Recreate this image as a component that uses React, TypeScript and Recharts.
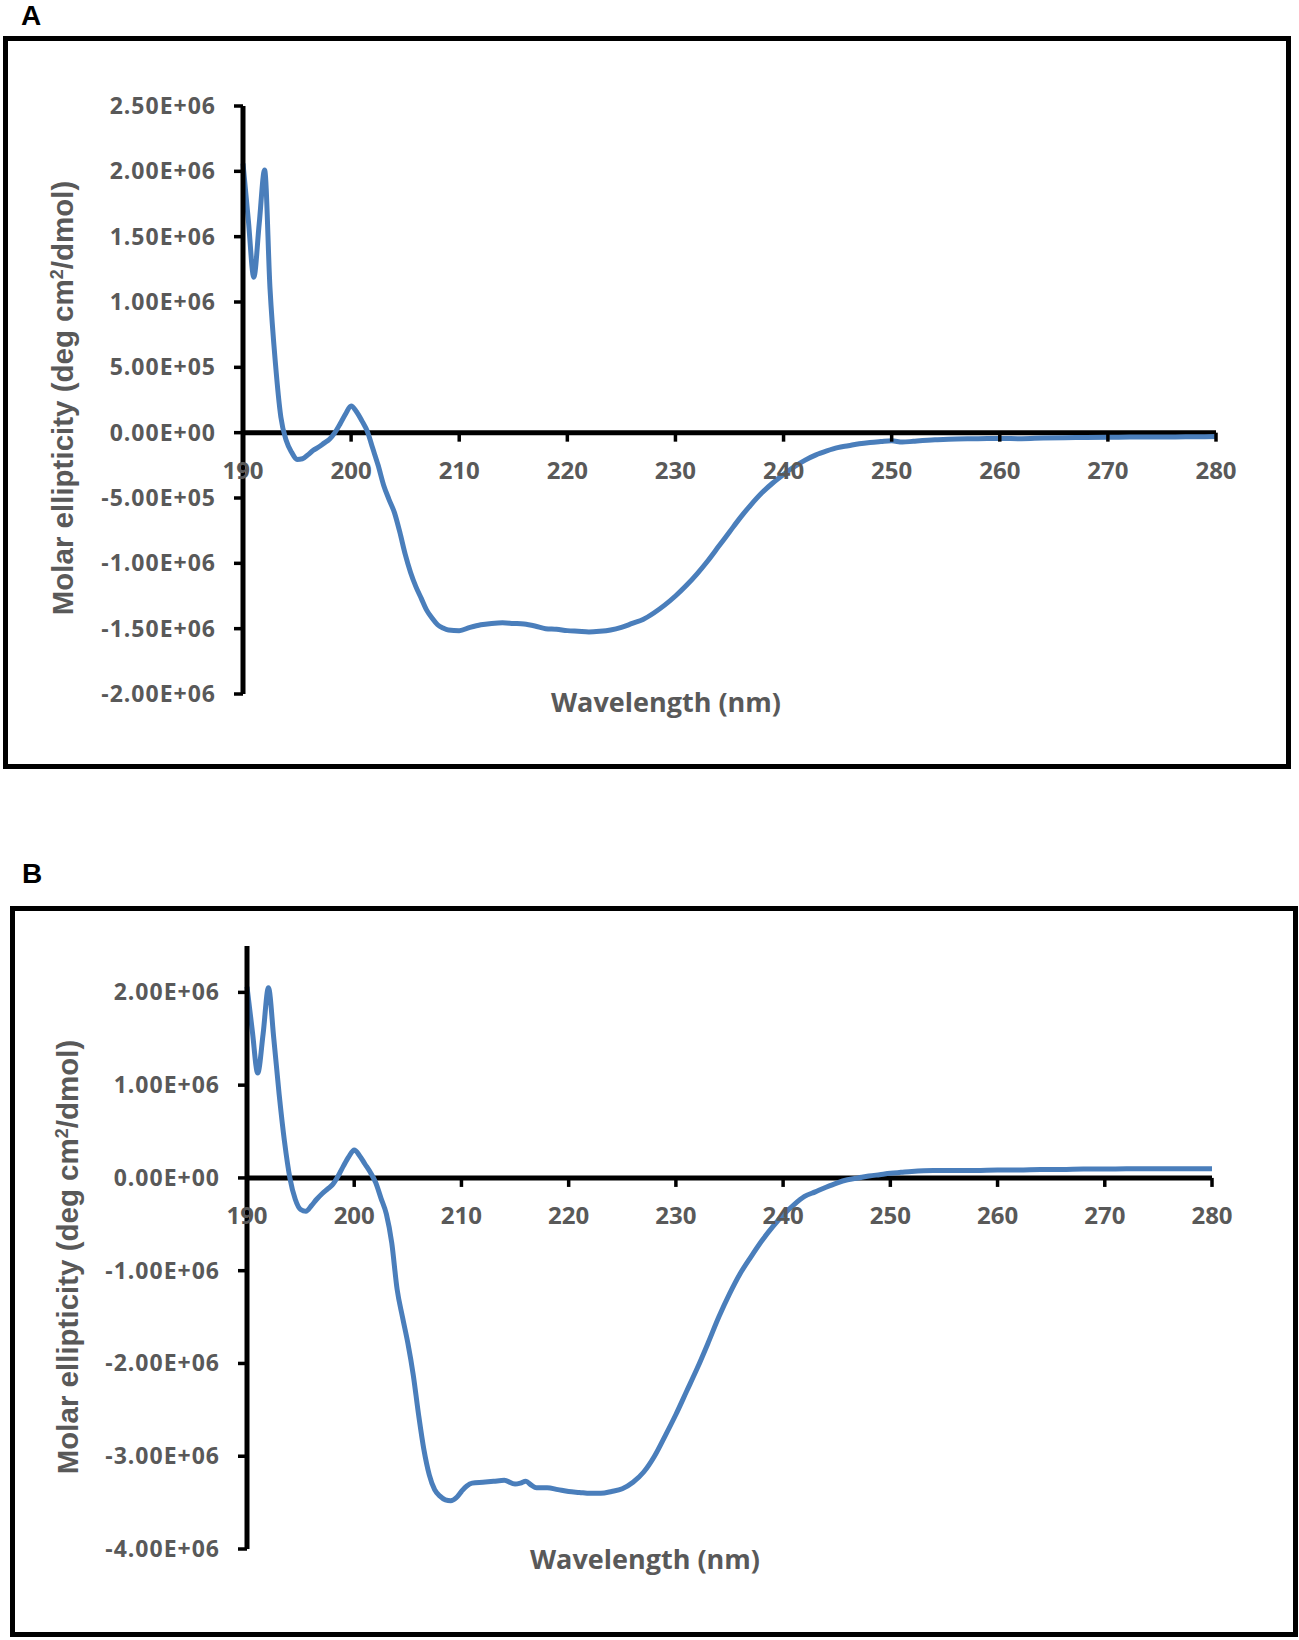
import React from 'react';
import { LineChart, Line, XAxis, YAxis, ReferenceLine } from 'recharts';

// ---------- Data ----------
const wavelengthsA = [
  190, 190.5, 191, 191.5, 192, 192.5, 193, 193.5, 194, 194.5, 195, 195.5, 196, 196.5, 197, 197.5, 198, 198.5, 199, 199.5,
  200, 200.5, 201, 201.5, 202, 202.5, 203, 203.5, 204, 204.5, 205, 205.5, 206, 206.5, 207, 207.5, 208, 208.5, 209,
  210, 211, 212, 213, 214, 215, 216, 217, 218, 219, 220, 221, 222, 223, 224, 225, 226, 227, 228, 229,
  230, 231, 232, 233, 234, 235, 236, 237, 238, 239, 240, 241, 242, 243, 244, 245, 246, 247, 248, 249,
  250, 251, 252, 254, 256, 258, 260, 262, 264, 266, 268, 270, 272, 274, 276, 278, 280,
];
const ellipticityA = [
  2.06e6, 1.62e6, 1.19e6, 1.6e6, 2.01e6, 1.1e6, 5.3e5, 1.2e5, -6e4, -1.5e5, -2.05e5, -2.0e5, -1.7e5, -1.35e5, -1.1e5, -8e4, -5e4, 0, 7e4, 1.45e5,
  2.05e5, 1.6e5, 9e4, 1e4, -1.2e5, -2.5e5, -4.0e5, -5.1e5, -6.1e5, -7.6e5, -9.3e5, -1.07e6, -1.18e6, -1.27e6, -1.36e6, -1.42e6, -1.47e6, -1.495e6, -1.51e6,
  -1.515e6, -1.49e6, -1.47e6, -1.46e6, -1.455e6, -1.46e6, -1.465e6, -1.48e6, -1.5e6, -1.505e6, -1.515e6, -1.52e6, -1.525e6, -1.52e6, -1.51e6, -1.49e6, -1.46e6, -1.43e6, -1.38e6, -1.32e6,
  -1.25e6, -1.17e6, -1.08e6, -9.8e5, -8.7e5, -7.6e5, -6.5e5, -5.5e5, -4.6e5, -3.85e5, -3.2e5, -2.6e5, -2.1e5, -1.7e5, -1.4e5, -1.15e5, -1.0e5, -8.5e4, -7.5e4, -6.8e4,
  -6.2e4, -7.2e4, -6.6e4, -5.5e4, -4.8e4, -4.7e4, -4.4e4, -4.6e4, -4.1e4, -3.8e4, -3.7e4, -3.5e4, -3.4e4, -3.3e4, -3.3e4, -3.1e4, -3.0e4,
];

const wavelengthsB = [
  190, 190.5, 191, 191.5, 192, 192.5, 193, 193.5, 194, 194.5, 195, 195.5, 196, 196.5, 197, 197.5, 198, 198.5, 199, 199.5,
  200, 200.5, 201, 201.5, 202, 202.5, 203, 203.5, 204, 204.5, 205, 205.5, 206, 206.5, 207, 207.5, 208, 208.5, 209, 209.5,
  210, 210.5, 211, 212, 213, 214, 215, 215.5, 216, 216.5, 217, 218, 219, 220, 221, 222, 223, 224, 225, 226, 227, 228, 229,
  230, 231, 232, 233, 234, 235, 236, 237, 238, 239, 240, 241, 242, 243, 244, 245, 246, 247, 248, 249,
  250, 251, 252, 254, 256, 258, 260, 262, 264, 266, 268, 270, 272, 274, 276, 278, 280,
];
const ellipticityB = [
  2.06e6, 1.58e6, 1.13e6, 1.55e6, 2.05e6, 1.5e6, 9e5, 3.9e5, 0, -2.3e5, -3.4e5, -3.6e5, -3.0e5, -2.3e5, -1.7e5, -1.2e5, -7e4, 2e4, 1.3e5, 2.3e5,
  3.0e5, 2.4e5, 1.5e5, 6e4, -5e4, -2.2e5, -3.9e5, -7e5, -1.2e6, -1.5e6, -1.78e6, -2.12e6, -2.55e6, -2.93e6, -3.2e6, -3.36e6, -3.43e6, -3.47e6, -3.48e6, -3.45e6,
  -3.38e6, -3.32e6, -3.29e6, -3.28e6, -3.27e6, -3.26e6, -3.3e6, -3.29e6, -3.27e6, -3.31e6, -3.34e6, -3.34e6, -3.36e6, -3.38e6, -3.39e6, -3.4e6, -3.4e6, -3.38e6, -3.35e6, -3.28e6, -3.17e6, -3.0e6, -2.78e6,
  -2.55e6, -2.3e6, -2.05e6, -1.78e6, -1.5e6, -1.25e6, -1.03e6, -8.5e5, -6.8e5, -5.3e5, -4.0e5, -2.9e5, -2.0e5, -1.5e5, -1.0e5, -5.5e4, -2e4, 0, 2e4, 3.5e4,
  5e4, 6e4, 7e4, 8e4, 8e4, 8e4, 8.5e4, 8.5e4, 9e4, 9e4, 9.5e4, 9.5e4, 1.0e5, 1.0e5, 1.0e5, 1.0e5, 1.0e5,
];

const xTicks = [190, 200, 210, 220, 230, 240, 250, 260, 270, 280];
const yTicksA = [-2e6, -1.5e6, -1e6, -5e5, 0, 5e5, 1e6, 1.5e6, 2e6, 2.5e6];
const yTicksB = [-4e6, -3e6, -2e6, -1e6, 0, 1e6, 2e6];
const yDomainA: [number, number] = [-2e6, 2.5e6];
const yDomainB: [number, number] = [-4e6, 2.5e6];

const xTitle = 'Wavelength (nm)';

const dataA = wavelengthsA.map((w, i) => ({ w, v: ellipticityA[i] }));
const dataB = wavelengthsB.map((w, i) => ({ w, v: ellipticityB[i] }));

// ---------- Styles ----------
const GRAY = '#595959';
const BLUE = '#4a7ebb';
const TICK_FONT = "'Open Sans', 'Noto Sans', sans-serif";
const TITLE_FONT = "'Liberation Sans', Arial, sans-serif";

function sci(v: number): string {
  if (v === 0) return '0.00E+00';
  const sign = v < 0 ? '-' : '';
  const a = Math.abs(v);
  let e = Math.floor(Math.log10(a) + 1e-9);
  let m = a / Math.pow(10, e);
  if (m >= 9.995) { m /= 10; e += 1; }
  return `${sign}${m.toFixed(2)}E${e < 0 ? '-' : '+'}${String(Math.abs(e)).padStart(2, '0')}`;
}

const YTick = (props: any) => {
  const { x, y, payload } = props;
  return (
    <text x={x} y={y} dy={8} textAnchor="end" fill={GRAY} fontFamily={TICK_FONT} fontWeight={700} fontSize={23} letterSpacing={1}>
      {sci(payload.value)}
    </text>
  );
};

const makeXTick = (plotH: number, domain: [number, number]) => (props: any) => {
  const { x, y, payload } = props;
  const zeroY = y - (plotH * (0 - domain[0])) / (domain[1] - domain[0]);
  return (
    <g>
      <line x1={x} x2={x} y1={zeroY} y2={zeroY + 9} stroke="#000" strokeWidth={3.5} />
      <text x={x} y={zeroY + 46} textAnchor="middle" fill={GRAY} fontFamily={TICK_FONT} fontWeight={700} fontSize={24}>
        {payload.value}
      </text>
    </g>
  );
};

const W = 1299;
const X_AXIS_H = 1;
const HA = 780;
const marginA = { top: 106, right: 83, bottom: 85, left: 0 };
const HB = 770;
const marginB = { top: 76, right: 87, bottom: 90, left: 0 };
const TOP_B = 870;

const XTickA = makeXTick(HA - marginA.top - marginA.bottom - X_AXIS_H, yDomainA);
const XTickB = makeXTick(HB - marginB.top - marginB.bottom - X_AXIS_H, yDomainB);

const YTitle = ({ x, y }: { x: number; y: number }) => (
  <text transform={`translate(${x},${y}) rotate(-90)`} textAnchor="middle" fontFamily={TITLE_FONT} fontWeight={700} fontSize={29.5} fill={GRAY}>
    Molar ellipticity (deg cm<tspan dy={-10} fontSize={18}>2</tspan><tspan dy={10}>/dmol)</tspan>
  </text>
);

const XTitle = ({ x, y }: { x: number; y: number }) => (
  <text x={x} y={y} textAnchor="middle" fontFamily={TICK_FONT} fontWeight={700} fontSize={27} fill={GRAY}>
    {xTitle}
  </text>
);

export default function App() {
  return (
    <div style={{ position: 'absolute', left: 0, top: 0, width: W, height: 1640, background: '#fff', overflow: 'hidden' }}>
      {/* frames, panel letters, axis titles */}
      <svg width={W} height={1640} style={{ position: 'absolute', left: 0, top: 0 }}>
        <rect x={5.5} y={38.5} width={1283} height={728} fill="none" stroke="#000" strokeWidth={5} />
        <rect x={12.5} y={908.5} width={1283} height={726} fill="none" stroke="#000" strokeWidth={5} />
        <text x={21} y={25} fontFamily={TITLE_FONT} fontWeight={700} fontSize={28} fill="#000">A</text>
        <text x={22} y={883} fontFamily={TITLE_FONT} fontWeight={700} fontSize={28} fill="#000">B</text>
        <YTitle x={73} y={398} />
        <XTitle x={666} y={712} />
        <YTitle x={78} y={1257} />
        <XTitle x={645} y={1569} />
      </svg>

      <div style={{ position: 'absolute', left: 0, top: 0 }}>
        <LineChart width={W} height={HA} data={dataA} margin={marginA}>
          <XAxis type="number" dataKey="w" domain={[190, 280]} ticks={xTicks} interval={0} height={X_AXIS_H}
            axisLine={false} tickLine={false} tickSize={0} tickMargin={0} tick={XTickA} />
          <YAxis type="number" domain={yDomainA} ticks={yTicksA} interval={0} width={243}
            axisLine={{ stroke: '#000', strokeWidth: 5 }} tickLine={{ stroke: '#000', strokeWidth: 3.5 }}
            tickSize={9} tickMargin={18} tick={<YTick />} />
          <ReferenceLine y={0} stroke="#000" strokeWidth={5} />
          <Line type="monotone" dataKey="v" stroke={BLUE} strokeWidth={5} dot={false} isAnimationActive={false} />
        </LineChart>
      </div>

      <div style={{ position: 'absolute', left: 0, top: TOP_B }}>
        <LineChart width={W} height={HB} data={dataB} margin={marginB}>
          <XAxis type="number" dataKey="w" domain={[190, 280]} ticks={xTicks} interval={0} height={X_AXIS_H}
            axisLine={false} tickLine={false} tickSize={0} tickMargin={0} tick={XTickB} />
          <YAxis type="number" domain={yDomainB} ticks={yTicksB} interval={0} width={247}
            axisLine={{ stroke: '#000', strokeWidth: 5 }} tickLine={{ stroke: '#000', strokeWidth: 3.5 }}
            tickSize={9} tickMargin={18} tick={<YTick />} />
          <ReferenceLine y={0} stroke="#000" strokeWidth={5} />
          <Line type="monotone" dataKey="v" stroke={BLUE} strokeWidth={5} dot={false} isAnimationActive={false} />
        </LineChart>
      </div>
    </div>
  );
}
